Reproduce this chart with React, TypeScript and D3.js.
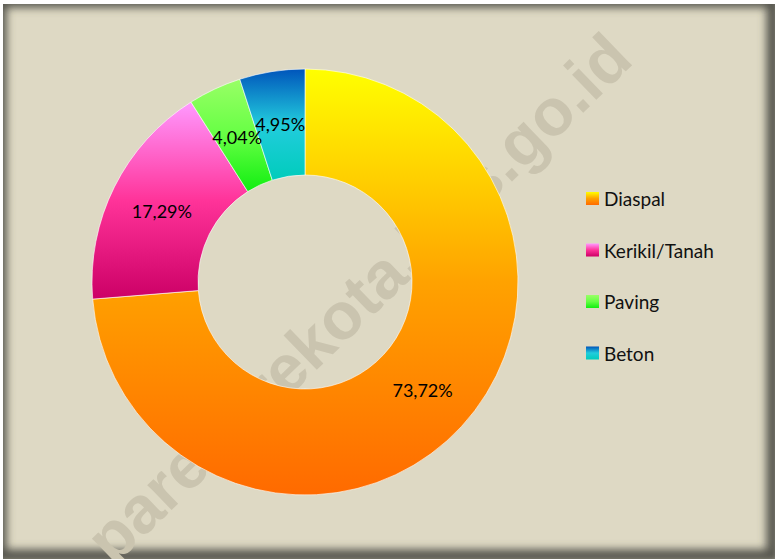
import React from "react";
import * as d3 from "d3";

const categories = ["Diaspal", "Kerikil/Tanah", "Paving", "Beton"];
const values = [73.72, 17.29, 4.04, 4.95];
const labels = ["73,72%", "17,29%", "4,04%", "4,95%"];
const gradients = [
  ["#ffff00", "#ffa200", "#ff6a00"],
  ["#ff99ff", "#ff3399", "#cc0066"],
  ["#99ff66", "#66ff44", "#11ee11"],
  ["#0055bb", "#22ccdd", "#00ccbb"],
];

const W = 777;
const H = 560;

export default function App() {
  const cx = 305;
  const cy = 282;
  const rOuter = 213;
  const rInner = 107;
  const pie = d3.pie<number>().sort(null).value((d) => d)(values);
  const arc = d3.arc<d3.PieArcDatum<number>>().innerRadius(rInner).outerRadius(rOuter);
  const legendY = d3.scalePoint<string>().domain(categories).range([198.5, 353]);

  return (
    <svg width={W} height={H} style={{ position: "absolute", left: 0, top: 0, fontFamily: "Lato, 'Open Sans', sans-serif" }}>
      <defs>
        {gradients.map((g, i) => (
          <linearGradient key={i} id={`g${i}`} x1="0" y1="0" x2="0" y2="1">
            <stop offset="0%" stopColor={g[0]} />
            <stop offset="50%" stopColor={g[1]} />
            <stop offset="100%" stopColor={g[2]} />
          </linearGradient>
        ))}
        <clipPath id="frameClip">
          <rect x={3} y={4} width={772} height={555} />
        </clipPath>
        <filter id="blur" x="-10%" y="-10%" width="120%" height="120%">
          <feGaussianBlur stdDeviation={4} />
        </filter>
      </defs>
      <rect x={0} y={0} width={W} height={H} fill="#ffffff" />
      <rect x={3} y={4} width={772} height={555} fill="#ded9c4" />
      <g clipPath="url(#frameClip)">
        <rect x={0} y={1} width={773} height={555} fill="none" stroke="#55554d" strokeWidth={13} filter="url(#blur)" />
      </g>
      <g clipPath="url(#frameClip)">
        <text
          transform="translate(362,302) rotate(-44)"
          textAnchor="middle"
          dominantBaseline="middle"
          fontFamily="'Liberation Sans', Arial, sans-serif"
          fontWeight="bold"
          fontSize={66}
          fill="#cac4af"
        >
          pareparekota.bps.go.id
        </text>
      </g>
      <g transform={`translate(${cx},${cy})`}>
        {pie.map((p, i) => (
          <path key={i} d={arc(p) || ""} fill={`url(#g${i})`} stroke="#ffffff" strokeOpacity={0.6} strokeWidth={1} />
        ))}
        {pie.map((p, i) => {
          const [x, y] = arc.centroid(p);
          return (
            <text key={i} x={x} y={y} textAnchor="middle" dominantBaseline="central" fontSize={18} fill="#000">
              {labels[i]}
            </text>
          );
        })}
      </g>
      <g>
        {categories.map((c, i) => {
          const y = legendY(c) as number;
          return (
            <g key={c}>
              <rect x={586} y={y - 6.5} width={13} height={13} fill={`url(#g${i})`} />
              <text x={604} y={y} dominantBaseline="central" fontSize={19} fill="#111">
                {c}
              </text>
            </g>
          );
        })}
      </g>
    </svg>
  );
}
